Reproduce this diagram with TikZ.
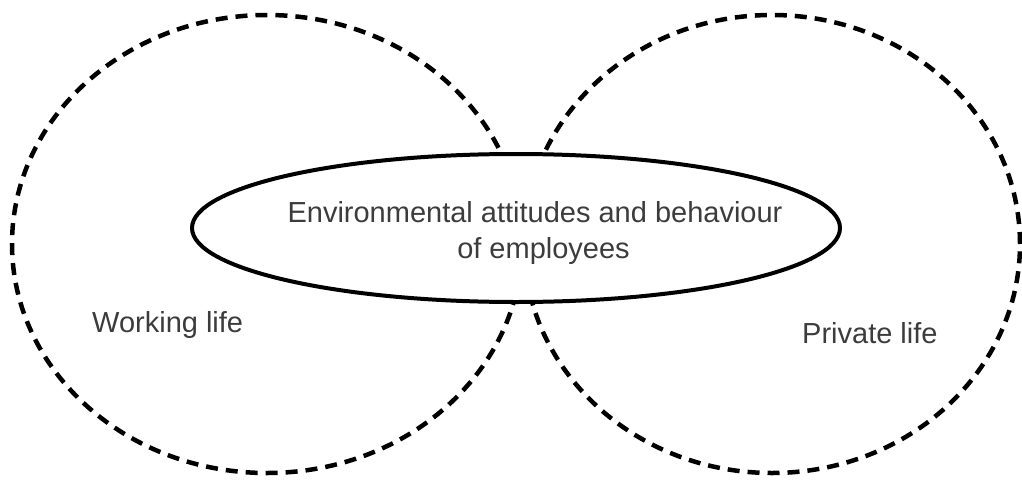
\documentclass[tikz,border=0pt]{standalone}
\usepackage{fontspec}
\setmainfont{Liberation Sans}
\usetikzlibrary{shapes.geometric}
\definecolor{labelgray}{HTML}{3C3C3C}
\begin{document}
\begin{tikzpicture}[x=1pt,y=-1pt,
  sphere/.style={ellipse,draw=black,line width=4.5pt,dash pattern=on 12pt off 8pt,
    inner sep=0pt,minimum width=#1},
  core/.style={ellipse,draw=black,fill=white,line width=4pt,inner sep=0pt},
  lbl/.style={text=labelgray,font=\fontsize{29}{36}\selectfont,inner sep=0pt}]
  \useasboundingbox (0,0) rectangle (1022,479);
  % life spheres
  \node[sphere=510pt,minimum height=458pt] (work) at (267,244) {};
  \node[sphere=496pt,minimum height=458pt] (private) at (772,244) {};
  % central attitudes ellipse
  \node[core,minimum width=648pt,minimum height=148pt] (center) at (516,228) {};
  \node[lbl,align=center,anchor=base] (centertext) at (535,258)
    {Environmental attitudes and behaviour\\\hspace*{17pt}of employees};
  % sphere labels
  \node[lbl,anchor=base west] (worklbl) at (92,332) {Working life};
  \node[lbl,anchor=base west] (privlbl) at (802,343) {Private life};
\end{tikzpicture}
\end{document}
